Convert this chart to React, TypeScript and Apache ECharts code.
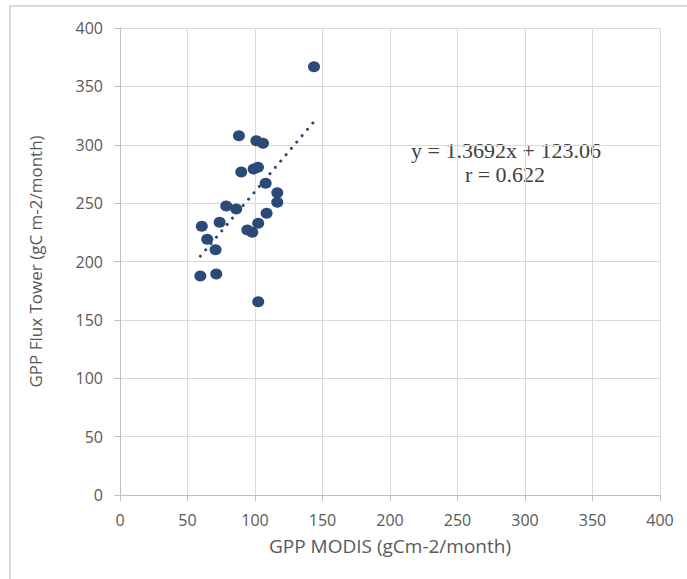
import React, { useEffect, useRef } from "react";
import * as echarts from "echarts";

const modisGpp = [143.7, 88.1, 101.0, 105.9, 89.8, 102.2, 99.0, 107.9, 116.5, 116.5, 78.7, 86.1, 108.6, 60.6, 73.8, 102.4, 94.3, 98.0, 64.6, 70.8, 59.5, 71.3, 102.4];
const towerGpp = [366.9, 307.8, 303.5, 301.2, 276.7, 280.7, 279.2, 267.0, 258.9, 250.7, 247.5, 245.0, 241.3, 230.1, 233.6, 232.7, 227.0, 225.0, 219.0, 210.1, 187.6, 189.3, 165.6];
const trendSlope = 1.3692;
const trendIntercept = 123.06;
const equationLines = ["y = 1.3692x + 123.06", "r = 0.622"];
const xTitle = "GPP MODIS (gCm-2/month)";
const yTitle = "GPP Flux Tower (gC m-2/month)";

export default function App() {
  const ref = useRef<HTMLDivElement>(null);
  useEffect(() => {
    if (!ref.current) return;
    const chart = echarts.init(ref.current, undefined, { renderer: "svg" });
    const points = modisGpp.map((x, i) => [x, towerGpp[i]]);
    const xMin = Math.min(...modisGpp);
    const xMax = Math.max(...modisGpp);
    const trend = [xMin, xMax].map((x) => [x, trendSlope * x + trendIntercept]);
    const markColor = "#2C4A77";
    const axisCommon = {
      type: "value" as const,
      min: 0,
      max: 400,
      interval: 50,
      axisLine: { show: true, lineStyle: { color: "#bfbfbf", width: 1 } },
      axisTick: { show: true, inside: false, length: 6, lineStyle: { color: "#bfbfbf" } },
      splitLine: { show: true, lineStyle: { color: "#d9d9d9", width: 1 } },
      axisLabel: { color: "#595959", fontFamily: "Open Sans", fontSize: 16 },
      nameLocation: "middle" as const,
      nameTextStyle: { color: "#595959", fontFamily: "Open Sans", fontSize: 17 },
    };
    chart.setOption({
      animation: false,
      backgroundColor: "#ffffff",
      grid: { left: 120, top: 28, width: 540, height: 467, containLabel: false },
      xAxis: {
        ...axisCommon,
        name: xTitle,
        nameGap: 41,
        nameTextStyle: { ...axisCommon.nameTextStyle, fontSize: 19 },
        axisLabel: { ...axisCommon.axisLabel, margin: 17 },
      },
      yAxis: {
        ...axisCommon,
        name: yTitle,
        nameGap: 76,
        axisLabel: { ...axisCommon.axisLabel, margin: 17 },
      },
      graphic: [
        {
          type: "rect",
          shape: { x: 10, y: 6, width: 720, height: 620 },
          style: { fill: "none", stroke: "#d9d9d9", lineWidth: 2 },
          silent: true,
        },
        {
          type: "text",
          x: 506,
          y: 150,
          style: {
            text: equationLines[0],
            fontFamily: "Liberation Serif",
            fontSize: 22,
            fill: "#404040",
            textAlign: "center",
            textVerticalAlign: "middle",
          },
        },
        {
          type: "text",
          x: 505,
          y: 174,
          style: {
            text: equationLines[1],
            fontFamily: "Liberation Serif",
            fontSize: 22,
            fill: "#404040",
            textAlign: "center",
            textVerticalAlign: "middle",
          },
        },
      ],
      series: [
        {
          type: "line",
          data: trend,
          symbol: "none",
          lineStyle: { color: markColor, width: 3, type: [0.1, 8.2], cap: "round" },
          z: 1,
        },
        {
          type: "scatter",
          data: points,
          symbol: "circle",
          symbolSize: [12, 11],
          itemStyle: { color: markColor, opacity: 1 },
          z: 2,
        },
      ],
    });
    return () => chart.dispose();
  }, []);
  return (
    <div
      ref={ref}
      style={{ position: "fixed", left: 0, top: 0, width: 687, height: 579 }}
    />
  );
}
